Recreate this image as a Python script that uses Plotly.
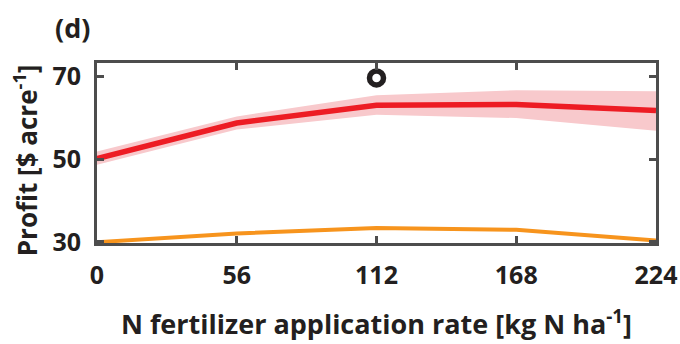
import plotly.graph_objects as go

n_rate = [0, 56, 112, 168, 224]
profit_mean = [50.1, 58.7, 63.0, 63.2, 61.7]
profit_upper = [51.8, 60.3, 65.4, 66.6, 66.4]
profit_lower = [48.6, 57.1, 60.7, 59.9, 56.8]
profit_other = [29.9, 32.0, 33.3, 32.9, 30.3]
opt_x = [112]
opt_y = [69.6]
x_ticks = [0, 56, 112, 168, 224]
y_ticks = [30, 50, 70]

axis_col = "#4d4d4d"
txt_col = "#231f20"
font_fam = "'Open Sans', sans-serif"

fig = go.Figure()
fig.add_trace(go.Scatter(x=n_rate, y=profit_upper, mode="lines",
                         line=dict(width=0, color="rgba(0,0,0,0)"), showlegend=False, hoverinfo="skip"))
fig.add_trace(go.Scatter(x=n_rate, y=profit_lower, mode="lines", fill="tonexty",
                         fillcolor="#f8c9cc", line=dict(width=0, color="rgba(0,0,0,0)"),
                         showlegend=False, hoverinfo="skip"))
fig.add_trace(go.Scatter(x=n_rate, y=profit_mean, mode="lines",
                         line=dict(width=5.5, color="#ed1c24"), showlegend=False))
fig.add_trace(go.Scatter(x=n_rate, y=profit_other, mode="lines",
                         line=dict(width=4, color="#f7941d"), showlegend=False, cliponaxis=False))
fig.add_trace(go.Scatter(x=opt_x, y=opt_y, mode="markers",
                         marker=dict(symbol="circle-open", size=14, color="#231f20",
                                     line=dict(width=5.5, color="#231f20")),
                         showlegend=False))

fig.update_layout(
    width=680, height=344,
    margin=dict(l=97, r=24, t=63, b=101, autoexpand=False),
    paper_bgcolor="white", plot_bgcolor="white",
    font=dict(family=font_fam, color=txt_col, size=25, weight="bold"),
    annotations=[
        dict(text="(d)", x=-0.043, y=1.197, xref="paper", yref="paper",
             xanchor="center", yanchor="middle", showarrow=False,
             font=dict(size=27, color=txt_col, weight="bold")),
        dict(text="Profit [$ acre<sup>-1</sup>]", x=-0.127, y=0.46, xref="paper", yref="paper",
             xanchor="center", yanchor="middle", textangle=-90, showarrow=False,
             font=dict(size=26, color=txt_col, weight="bold")),
    ],
)

fig.update_xaxes(
    range=[0, 224], tickvals=x_ticks, ticktext=[str(v) for v in x_ticks],
    showline=True, linecolor=axis_col, linewidth=3, mirror="ticks",
    ticks="inside", ticklen=7, tickwidth=3, tickcolor=axis_col,
    showgrid=False, zeroline=False, automargin=False, ticklabelstandoff=8,
    tickfont=dict(size=25, color=txt_col, weight="bold"),
    title=dict(text="N fertilizer application rate [kg N ha<sup>-1</sup>]",
               font=dict(size=27, color=txt_col, weight="bold"), standoff=26),
)
fig.update_yaxes(
    range=[29.7, 73.2], tickvals=y_ticks, ticktext=[str(v) for v in y_ticks],
    showline=True, linecolor=axis_col, linewidth=3, mirror="ticks",
    ticks="inside", ticklen=7, tickwidth=3, tickcolor=axis_col,
    showgrid=False, zeroline=False, automargin=False, ticklabelstandoff=8,
    tickfont=dict(size=25, color=txt_col, weight="bold"),
)

fig.write_html("out.html")
